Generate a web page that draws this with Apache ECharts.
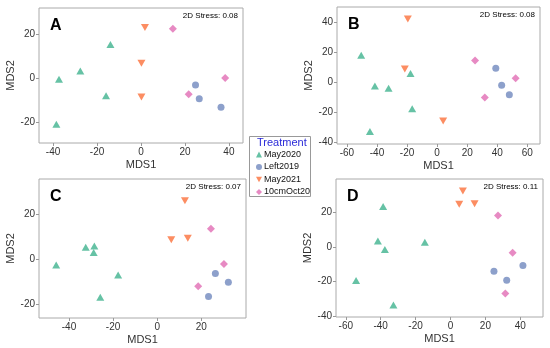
<!DOCTYPE html>
<html><head><meta charset="utf-8">
<script src="https://cdn.jsdelivr.net/npm/echarts@6/dist/echarts.min.js"></script>
<style>html,body{margin:0;padding:0;background:#fff}#c{width:550px;height:348px}</style>
</head><body><div id="c"></div>
<script>
// ---- data ----
const groups = ['May2020', 'Left2019', 'May2021', '10cmOct20'];
const panels = ['A', 'B', 'C', 'D'];
const stress = ['0.08', '0.08', '0.07', '0.11'];
// Panel A
const A_May2020 = [[-38.5,-21],[-37.3,-0.5],[-27.6,3.2],[-13.9,15.2],[-15.9,-8.0]];
const A_Left2019 = [[24.8,-3.2],[26.5,-9.4],[36.4,-13.3]];
const A_May2021 = [[1.8,23],[0.2,6.7],[0.2,-8.6]];
const A_Oct20 = [[14.5,22.4],[38.3,0],[21.7,-7.4]];
// Panel B
const B_May2020 = [[-50.5,17.9],[-41.4,-2.7],[-32.3,-4.2],[-17.7,5.8],[-16.6,-17.9],[-44.7,-33.1]];
const B_Left2019 = [[39.0,9.2],[42.9,-2.2],[48.0,-8.5]];
const B_May2021 = [[-19.5,42.2],[-21.5,8.7],[4.0,-26.1]];
const B_Oct20 = [[25.2,14.5],[31.7,-10.3],[52.2,2.5]];
// Panel C
const C_May2020 = [[-45.8,-2.5],[-32.4,5.4],[-28.5,6.0],[-28.8,3.1],[-17.7,-7.0],[-25.8,-17.0]];
const C_Left2019 = [[26.4,-6.3],[32.3,-10.3],[23.3,-16.7]];
const C_May2021 = [[12.6,26.3],[6.4,8.8],[13.9,9.4]];
const C_Oct20 = [[24.4,13.7],[30.3,-2.1],[18.6,-12.1]];
// Panel D
const D_May2020 = [[-38.6,23.5],[-41.6,3.4],[-37.6,-1.5],[-14.7,2.8],[-54.1,-19.5],[-32.7,-33.6]];
const D_Left2019 = [[24.9,-14.1],[32.2,-19.3],[41.5,-10.8]];
const D_May2021 = [[7.1,32.4],[5.0,24.8],[13.8,25.0]];
const D_Oct20 = [[27.2,18.3],[35.6,-3.4],[31.4,-27.0]];
// ticks
const A_xTicks = [-40,-20,0,20,40], A_yTicks = [-20,0,20];
const B_xTicks = [-60,-40,-20,0,20,40,60], B_yTicks = [-40,-20,0,20,40];
const C_xTicks = [-40,-20,0,20], C_yTicks = [-20,0,20];
const D_xTicks = [-60,-40,-20,0,20,40], D_yTicks = [-40,-20,0,20];

const panelData = [
  [A_May2020, A_Left2019, A_May2021, A_Oct20],
  [B_May2020, B_Left2019, B_May2021, B_Oct20],
  [C_May2020, C_Left2019, C_May2021, C_Oct20],
  [D_May2020, D_Left2019, D_May2021, D_Oct20]
];
const xTicks = [A_xTicks, B_xTicks, C_xTicks, D_xTicks];
const yTicks = [A_yTicks, B_yTicks, C_yTicks, D_yTicks];

// ---- layout / style ----
const colors = ['#66C2A5', '#8DA0CB', '#FC8D62', '#E78AC3'];
const symbols = ['triangle', 'circle', 'path://M0,0 L10,0 L5,9 Z', 'diamond'];
const sizes = [[8,7], 7, [8,7], [8,8]];
const grids = [
  {left: 39, top: 8, width: 204, height: 135},
  {left: 337, top: 7, width: 203, height: 137},
  {left: 39, top: 179, width: 207, height: 139},
  {left: 336, top: 179, width: 207, height: 138}
];
const xRanges = [[-46.4,46.4],[-66.6,68.4],[-53.6,40.3],[-65.6,53]];
const yRanges = [[-29.5,31.8],[-41.5,50.3],[-26.3,36],[-40.6,39.4]];
const font = 'Liberation Sans, Arial, sans-serif';

const xAxis = [], yAxis = [], series = [], graphic = [];
for (let i = 0; i < 4; i++) {
  xAxis.push({
    gridIndex: i, type: 'value', min: xRanges[i][0], max: xRanges[i][1],
    name: 'MDS1', nameLocation: 'middle', nameGap: 16,
    nameTextStyle: {color: '#333', fontSize: 11, fontFamily: font},
    axisLine: {show: false, onZero: false}, splitLine: {show: false},
    axisTick: {show: true, length: 3, lineStyle: {color: '#999'}, customValues: xTicks[i]},
    axisLabel: {color: '#333', fontSize: 10, fontFamily: font, margin: 4, customValues: xTicks[i]}
  });
  yAxis.push({
    gridIndex: i, type: 'value', min: yRanges[i][0], max: yRanges[i][1],
    name: 'MDS2', nameLocation: 'middle', nameGap: 18,
    nameTextStyle: {color: '#333', fontSize: 11, fontFamily: font},
    axisLine: {show: false, onZero: false}, splitLine: {show: false},
    axisTick: {show: true, length: 3, lineStyle: {color: '#999'}, customValues: yTicks[i]},
    axisLabel: {color: '#333', fontSize: 10, fontFamily: font, margin: 4, customValues: yTicks[i]}
  });
  for (let g = 0; g < 4; g++) {
    series.push({
      type: 'scatter', name: groups[g], xAxisIndex: i, yAxisIndex: i,
      data: panelData[i][g], symbol: symbols[g], symbolSize: sizes[g],
      itemStyle: {color: colors[g], opacity: 1}
    });
  }
  const gr = grids[i];
  graphic.push({
    type: 'text', left: gr.left + 11, top: gr.top + 10,
    style: {text: panels[i], font: 'bold 16px ' + font, fill: '#000'}
  });
  graphic.push({
    type: 'text', right: 550 - (gr.left + gr.width) + 5, top: gr.top + 4,
    style: {text: '2D Stress: ' + stress[i], font: '8px ' + font, fill: '#000'}
  });
}
// legend box and title
graphic.push({
  type: 'rect', shape: {x: 249.5, y: 136.5, width: 61, height: 60},
  style: {fill: '#fff', stroke: '#999', lineWidth: 1}, z: 10
});
graphic.push({
  type: 'text', left: 257, top: 137,
  style: {text: 'Treatment', font: '11px ' + font, fill: '#2a2ad8'}, z: 11
});

const chart = echarts.init(document.getElementById('c'), null, {renderer: 'canvas'});
chart.setOption({
  animation: false,
  backgroundColor: '#fff',
  grid: grids.map(g => Object.assign({show: true, borderColor: '#aaa', borderWidth: 1, backgroundColor: 'transparent'}, g)),
  xAxis, yAxis, series, graphic,
  legend: {
    data: groups, orient: 'vertical', left: 256, top: 150, z: 20,
    itemWidth: 6, itemHeight: 6, itemGap: 3.5, padding: 0,
    textStyle: {fontSize: 9, fontFamily: font, color: '#111', padding: [0,0,0,-3]}
  }
});
</script></body></html>
